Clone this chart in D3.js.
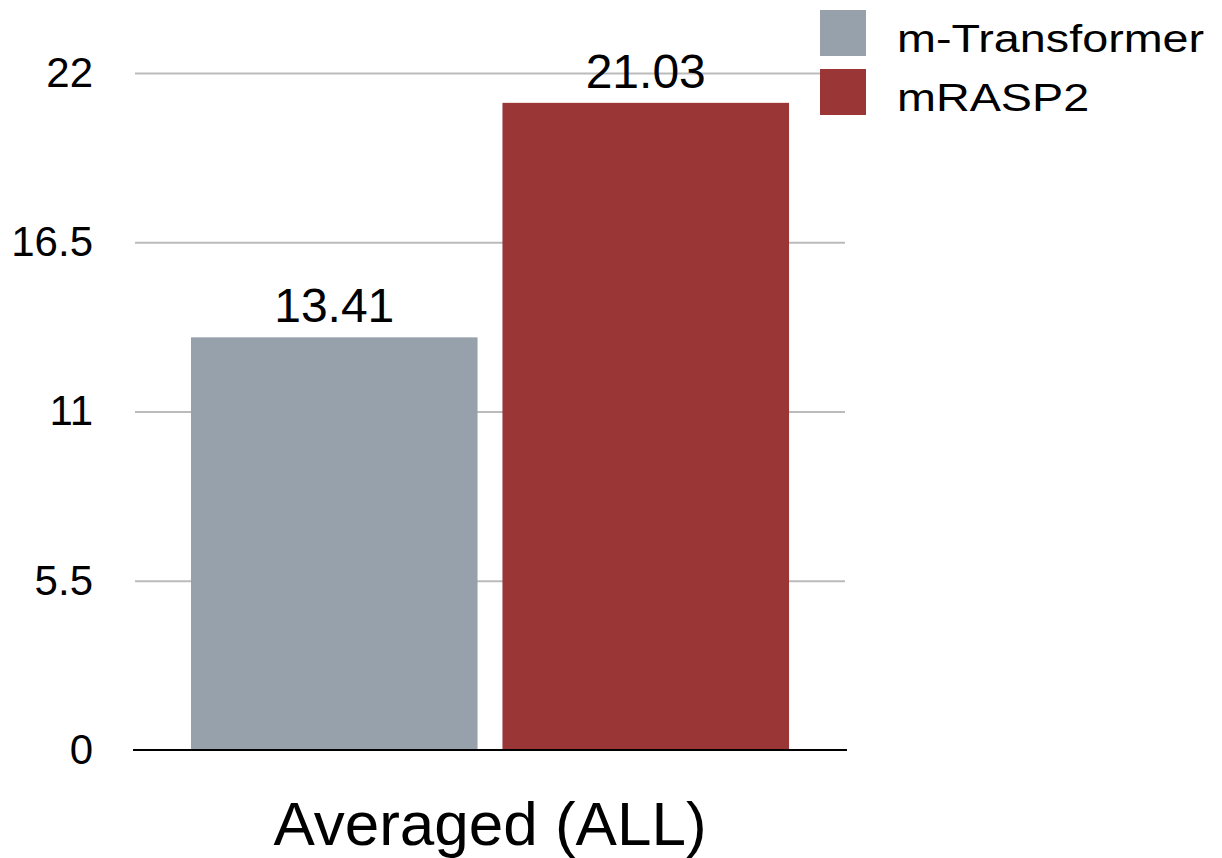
<!DOCTYPE html>
<html>
<head>
<meta charset="utf-8">
<script src="https://cdn.jsdelivr.net/npm/d3@7/dist/d3.min.js"></script>
<style>
  html, body { margin: 0; padding: 0; background: #fff; }
  svg { display: block; font-family: "Liberation Sans", Arial, Helvetica, sans-serif; }
</style>
</head>
<body>
<svg id="chart" width="1222" height="858"></svg>
<script>
// Data
const categories = ["Averaged (ALL)"];
const seriesNames = ["m-Transformer", "mRASP2"];
const seriesValues = [[13.41], [21.03]];   // per series, per category
const valueLabels = [["13.41"], ["21.03"]];
const yTicks = [0, 5.5, 11, 16.5, 22];
const yTickLabels = ["0", "5.5", "11", "16.5", "22"];
const colors = ["#97a1ab", "#9b3636"];

const svg = d3.select("#chart");
const plot = { left: 135, right: 845, top: 73, bottom: 750 };

const y = d3.scaleLinear().domain([0, 22]).range([plot.bottom, plot.top]);
const x0 = d3.scaleBand().domain(categories)
  .range([plot.left, plot.right]).paddingInner(0).paddingOuter(0.0936);
const x1 = d3.scaleBand().domain(seriesNames)
  .range([0, x0.bandwidth()]).paddingInner(0.08).paddingOuter(0);
const color = d3.scaleOrdinal().domain(seriesNames).range(colors);

// Gridlines and y tick labels
const yAxis = d3.axisLeft(y)
  .tickValues(yTicks)
  .tickFormat((d, i) => yTickLabels[i])
  .tickSize(-(plot.right - plot.left))
  .tickPadding(42);

const gy = svg.append("g")
  .attr("transform", `translate(${plot.left},0)`)
  .call(yAxis);
gy.select(".domain").remove();
gy.selectAll(".tick line")
  .attr("stroke", "#bbbbbb")
  .attr("stroke-width", 2)
  .attr("stroke-opacity", d => d === 0 ? 0 : 1);
gy.selectAll(".tick text")
  .attr("fill", "#000")
  .attr("font-size", 42)
  .attr("font-family", "'Liberation Sans', Arial, Helvetica, sans-serif");

// Bars
const rows = categories.map((c, ci) => ({
  category: c,
  values: seriesNames.map((s, si) => ({ series: s, value: seriesValues[si][ci], label: valueLabels[si][ci] }))
}));

const groups = svg.append("g").selectAll("g")
  .data(rows).join("g")
  .attr("transform", d => `translate(${x0(d.category)},0)`);

groups.selectAll("rect")
  .data(d => d.values).join("rect")
  .attr("x", d => x1(d.series))
  .attr("y", d => y(d.value))
  .attr("width", x1.bandwidth())
  .attr("height", d => y(0) - y(d.value))
  .attr("fill", d => color(d.series));

groups.selectAll("text.value")
  .data(d => d.values).join("text")
  .attr("class", "value")
  .attr("x", d => x1(d.series) + x1.bandwidth() / 2)
  .attr("y", d => y(d.value) - 15)
  .attr("text-anchor", "middle")
  .attr("font-size", 48)
  .attr("fill", "#000")
  .text(d => d.label);

// Baseline
svg.append("line")
  .attr("x1", plot.left - 2).attr("x2", plot.right + 2)
  .attr("y1", y(0)).attr("y2", y(0))
  .attr("stroke", "#000").attr("stroke-width", 2);

// Category label
svg.selectAll("text.cat")
  .data(categories).join("text")
  .attr("class", "cat")
  .attr("x", d => x0(d) + x0.bandwidth() / 2)
  .attr("y", 845)
  .attr("text-anchor", "middle")
  .attr("font-size", 62)
  .attr("fill", "#000")
  .text(d => d);

// Legend
const legend = svg.append("g").selectAll("g")
  .data(seriesNames).join("g")
  .attr("transform", (d, i) => `translate(820,${[10, 69][i]})`);
legend.append("rect")
  .attr("width", 46).attr("height", 46)
  .attr("fill", d => color(d));
legend.append("text")
  .attr("transform", "translate(77,42) scale(1.23,1)")
  .attr("font-size", 38)
  .attr("fill", "#000")
  .text(d => d);
</script>
</body>
</html>
